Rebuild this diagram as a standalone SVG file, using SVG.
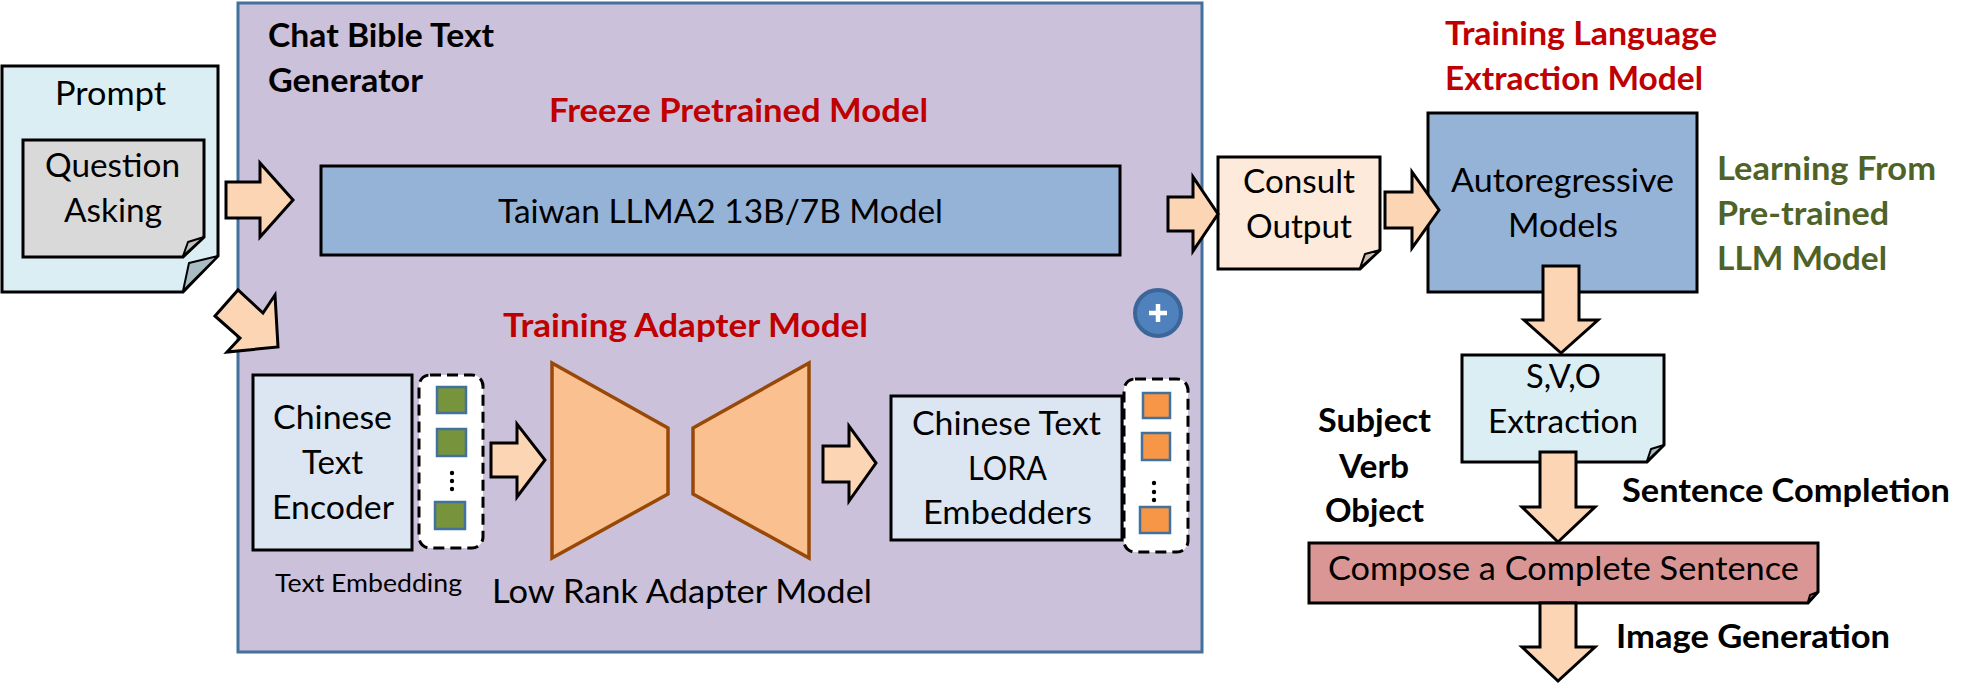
<svg xmlns="http://www.w3.org/2000/svg" width="1974" height="684" viewBox="0 0 1974 684">
<style>
  .t { font-family: Lato, "Open Sans", sans-serif; font-size: 32px; fill: #000; }
  .b { font-family: Lato, "Open Sans", sans-serif; font-size: 32px; font-weight: bold; fill: #000; }
  .red { fill: #C00000; }
  .green { fill: #4F6228; }
  .small { font-size: 25px; }
  .box { stroke: #000; stroke-width: 3; stroke-linejoin: miter; }
  .arrow { fill: #FCD5B5; stroke: #000; stroke-width: 3; stroke-linejoin: miter; }
  .flap { stroke: #000; stroke-width: 2; stroke-linejoin: round; }
  .dash { fill: #FFFFFF; stroke: #000; stroke-width: 3; stroke-dasharray: 11 6; }
  .sqg { fill: #77933C; stroke: #41719C; stroke-width: 2.5; }
  .sqo { fill: #F79646; stroke: #41719C; stroke-width: 2.5; }
  .trap { fill: #FAC090; stroke: #984807; stroke-width: 3.5; stroke-linejoin: miter; }
</style>

<g id="chat-bible-generator">
  <rect x="238" y="3" width="964" height="649" fill="#CCC1DA" stroke="#41719C" stroke-width="3"/>
  <text class="b" x="268" y="47" textLength="226" lengthAdjust="spacingAndGlyphs">Chat Bible Text</text>
  <text class="b" x="268" y="92" textLength="155" lengthAdjust="spacingAndGlyphs">Generator</text>
  <text class="b red" x="549" y="122" textLength="379" lengthAdjust="spacingAndGlyphs">Freeze Pretrained Model</text>
  <text class="b red" x="503" y="337" textLength="365" lengthAdjust="spacingAndGlyphs">Training Adapter Model</text>
</g>

<g id="prompt">
  <path class="box" d="M2,66 H218 V256 L183,292 H2 Z" fill="#DBEEF4"/>
  <path class="flap" d="M218,256 L189,263 L183,291 Z" fill="#A9BCC4"/>
  <text class="t" x="55" y="105" textLength="111" lengthAdjust="spacingAndGlyphs">Prompt</text>
</g>

<g id="question-asking">
  <path class="box" d="M23,140 H204 V237 L183,257 H23 Z" fill="#D9D9D9"/>
  <path class="flap" d="M204,237 L188,242 L183,256 Z" fill="#BFBFBF"/>
  <text class="t" x="45" y="177" textLength="135" lengthAdjust="spacingAndGlyphs">Question</text>
  <text class="t" x="64" y="222" textLength="98" lengthAdjust="spacingAndGlyphs">Asking</text>
</g>

<g id="taiwan-llma2">
  <rect class="box" x="321" y="166" width="799" height="89" fill="#95B3D7"/>
  <text class="t" x="498" y="223" textLength="445" lengthAdjust="spacingAndGlyphs">Taiwan LLMA2 13B/7B Model</text>
</g>

<g id="chinese-text-encoder">
  <rect class="box" x="253" y="375" width="159" height="175" fill="#DCE6F2"/>
  <text class="t" x="273" y="429" textLength="119" lengthAdjust="spacingAndGlyphs">Chinese</text>
  <text class="t" x="302" y="474" textLength="61" lengthAdjust="spacingAndGlyphs">Text</text>
  <text class="t" x="272" y="519" textLength="122" lengthAdjust="spacingAndGlyphs">Encoder</text>
  <text class="t small" x="275" y="592" textLength="187" lengthAdjust="spacingAndGlyphs">Text Embedding</text>
</g>

<g id="text-embedding-vector">
  <rect class="dash" x="419" y="375" width="64" height="173" rx="11"/>
  <rect class="sqg" x="437" y="387" width="29" height="26"/>
  <rect class="sqg" x="437" y="429" width="29" height="27"/>
  <rect class="sqg" x="435" y="502" width="30" height="27"/>
  <circle cx="452" cy="473" r="2.2"/>
  <circle cx="452" cy="481" r="2.2"/>
  <circle cx="452" cy="489" r="2.2"/>
</g>

<g id="low-rank-adapter">
  <path class="trap" d="M552,363 L668,428 L668,494 L552,558 Z"/>
  <path class="trap" d="M693,428 L809,363 L809,558 L693,494 Z"/>
  <text class="t" x="492" y="603" textLength="380" lengthAdjust="spacingAndGlyphs">Low Rank Adapter Model</text>
</g>

<g id="lora-embedders">
  <rect class="box" x="891" y="396" width="231" height="144" fill="#DCE6F2"/>
  <text class="t" x="912" y="435" textLength="189" lengthAdjust="spacingAndGlyphs">Chinese Text</text>
  <text class="t" x="968" y="480" textLength="79" lengthAdjust="spacingAndGlyphs">LORA</text>
  <text class="t" x="923" y="524" textLength="169" lengthAdjust="spacingAndGlyphs">Embedders</text>
</g>

<g id="lora-embedding-vector">
  <rect class="dash" x="1124" y="379" width="64" height="173" rx="11"/>
  <rect class="sqo" x="1143" y="393" width="27" height="25"/>
  <rect class="sqo" x="1142" y="433" width="28" height="27"/>
  <rect class="sqo" x="1140" y="507" width="30" height="26"/>
  <circle cx="1154" cy="483" r="2.2"/>
  <circle cx="1154" cy="492" r="2.2"/>
  <circle cx="1154" cy="500" r="2.2"/>
</g>

<g id="plus">
  <circle cx="1158" cy="313" r="23" fill="#4F81BD" stroke="#3C6699" stroke-width="4"/>
  <path d="M1149,313 H1167 M1158,304 V322" stroke="#FFFFFF" stroke-width="4.5"/>
</g>

<g id="consult-output">
  <path class="box" d="M1218,157 H1380 V250 L1360,269 H1218 Z" fill="#FDEADA"/>
  <path class="flap" d="M1380,250 L1365,254 L1360,268 Z" fill="#CDBFB3"/>
  <text class="t" x="1243" y="193" textLength="112" lengthAdjust="spacingAndGlyphs">Consult</text>
  <text class="t" x="1246" y="238" textLength="106" lengthAdjust="spacingAndGlyphs">Output</text>
</g>

<g id="training-language-label">
  <text class="b red" x="1445" y="45" textLength="272" lengthAdjust="spacingAndGlyphs">Training Language</text>
  <text class="b red" x="1445" y="90" textLength="258" lengthAdjust="spacingAndGlyphs">Extraction Model</text>
</g>

<g id="autoregressive-models">
  <rect class="box" x="1428" y="113" width="269" height="179" fill="#95B3D7"/>
  <text class="t" x="1451" y="192" textLength="223" lengthAdjust="spacingAndGlyphs">Autoregressive</text>
  <text class="t" x="1508" y="237" textLength="110" lengthAdjust="spacingAndGlyphs">Models</text>
</g>

<g id="learning-label">
  <text class="b green" x="1717" y="180" textLength="219" lengthAdjust="spacingAndGlyphs">Learning From</text>
  <text class="b green" x="1717" y="225" textLength="172" lengthAdjust="spacingAndGlyphs">Pre-trained</text>
  <text class="b green" x="1717" y="270" textLength="170" lengthAdjust="spacingAndGlyphs">LLM Model</text>
</g>

<g id="svo-extraction">
  <path class="box" d="M1462,355 H1664 V445 L1647,462 H1462 Z" fill="#DBEEF4"/>
  <path class="flap" d="M1664,445 L1651,449 L1647,461 Z" fill="#A9BCC4"/>
  <text class="t" x="1526" y="388" textLength="75" lengthAdjust="spacingAndGlyphs">S,V,O</text>
  <text class="t" x="1488" y="433" textLength="150" lengthAdjust="spacingAndGlyphs">Extraction</text>
</g>

<g id="svo-label">
  <text class="b" x="1318" y="432" textLength="113" lengthAdjust="spacingAndGlyphs">Subject</text>
  <text class="b" x="1339" y="478" textLength="70" lengthAdjust="spacingAndGlyphs">Verb</text>
  <text class="b" x="1325" y="522" textLength="99" lengthAdjust="spacingAndGlyphs">Object</text>
</g>

<g id="compose-sentence">
  <path class="box" d="M1309,543 H1818 V592 L1808,603 H1309 Z" fill="#D99694"/>
  <path class="flap" d="M1818,592 L1810,595 L1808,602 Z" fill="#A87270"/>
  <text class="t" x="1328" y="580" textLength="471" lengthAdjust="spacingAndGlyphs">Compose a Complete Sentence</text>
</g>

<g id="connector-labels">
  <text class="b" x="1622" y="502" textLength="328" lengthAdjust="spacingAndGlyphs">Sentence Completion</text>
  <text class="b" x="1616" y="648" textLength="274" lengthAdjust="spacingAndGlyphs">Image Generation</text>
</g>

<g id="connectors">
  <path class="arrow" d="M226,182 H260 V163 L293,200 L260,237 V218 H226 Z"/>
  <path class="arrow" d="M215,316 L238,290 L263,313 L275,295 L278,347 L227,352 L240,338 Z"/>
  <path class="arrow" d="M491,443 H517 V424 L545,460 L517,497 V477 H491 Z"/>
  <path class="arrow" d="M823,446 H849 V426 L876,463 L849,501 V482 H823 Z"/>
  <path class="arrow" d="M1168,197 H1193 V177 L1218,214 L1193,251 V231 H1168 Z"/>
  <path class="arrow" d="M1385,192 H1412 V172 L1439,210 L1412,248 V228 H1385 Z"/>
  <path class="arrow" d="M1543,266 V320 H1524 L1561,353 L1598,320 H1579 V266 Z"/>
  <path class="arrow" d="M1540,452 V507 H1522 L1558,542 L1595,507 H1576 V452 Z"/>
  <path class="arrow" d="M1540,603 V647 H1522 L1558,681 L1595,647 H1576 V603 Z"/>
</g>
</svg>
